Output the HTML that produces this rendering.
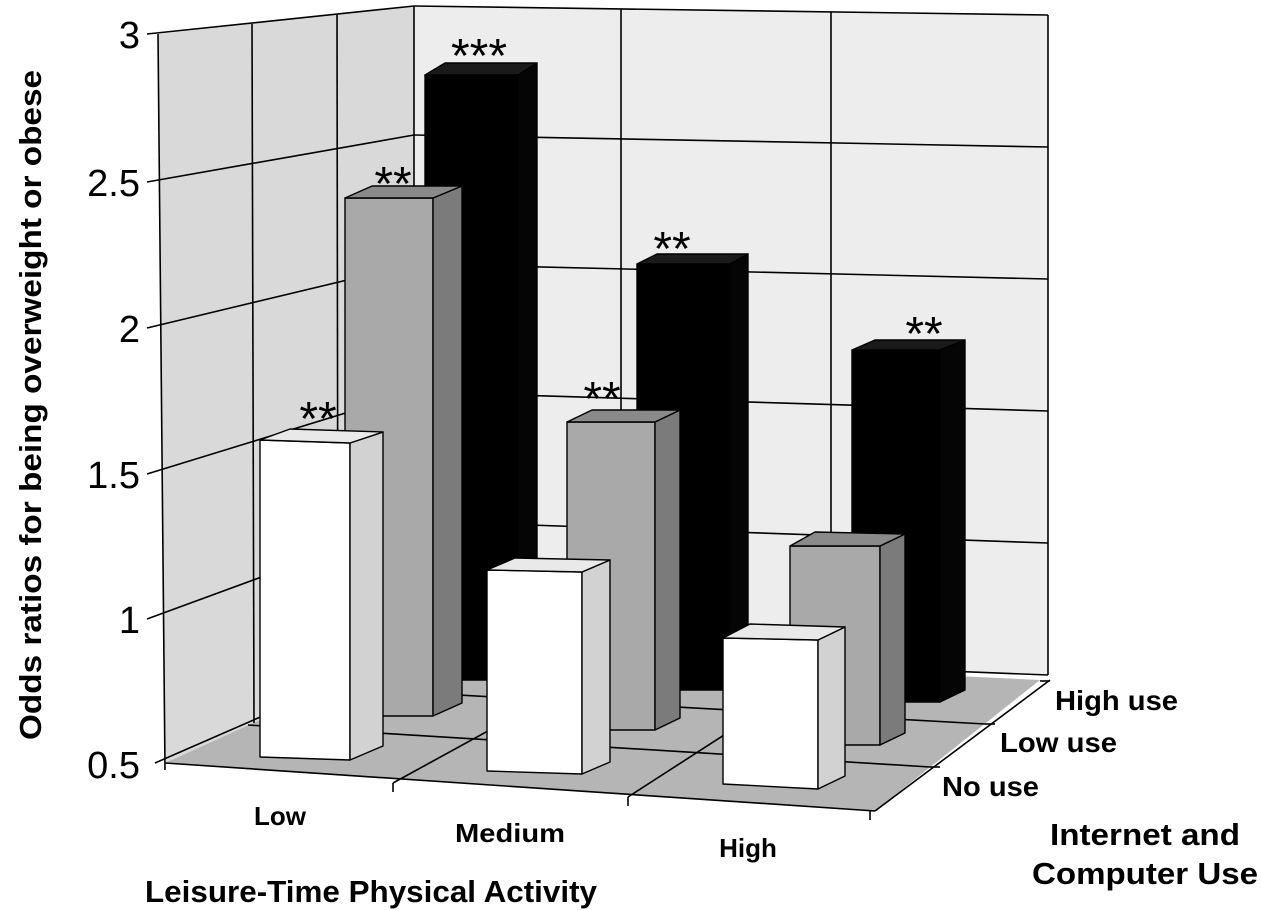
<!DOCTYPE html>
<html><head><meta charset="utf-8"><style>html,body{margin:0;padding:0;background:#fff}svg{display:block}</style></head>
<body>
<svg width="1261" height="910" viewBox="0 0 1261 910" xmlns="http://www.w3.org/2000/svg" font-family="Liberation Sans, sans-serif">
<polygon points="158,34 414,6 414,650 165,763" fill="#d9d9d9"/>
<polygon points="414,6 1048,15 1048,675 414,650" fill="#ededed"/>
<polygon points="165,763 414,650 1040,680 875,811" fill="#b5b5b5"/>
<g stroke="#000" stroke-width="1.6" fill="none">
<line x1="147" y1="34" x2="414" y2="6"/>
<line x1="147" y1="182" x2="414" y2="135"/>
<line x1="147" y1="328" x2="414" y2="264"/>
<line x1="147" y1="474" x2="414" y2="392"/>
<line x1="147" y1="619" x2="414" y2="521"/>
<line x1="155" y1="763" x2="414" y2="650"/>
<line x1="414" y1="6" x2="1048" y2="15"/>
<line x1="414" y1="135" x2="1048" y2="147"/>
<line x1="414" y1="264" x2="1048" y2="279"/>
<line x1="414" y1="392" x2="1048" y2="411"/>
<line x1="414" y1="521" x2="1048" y2="543"/>
<line x1="158" y1="34" x2="165" y2="770"/>
<line x1="252" y1="24" x2="254" y2="723"/>
<line x1="337" y1="15" x2="338" y2="685"/>
<line x1="414" y1="6" x2="414" y2="650"/>
<line x1="621" y1="9" x2="621" y2="658"/>
<line x1="831" y1="12" x2="831" y2="666"/>
<line x1="1048" y1="15" x2="1048" y2="675"/>
<line x1="165" y1="763" x2="875" y2="811"/>
<line x1="875" y1="811" x2="1050" y2="680"/>
<line x1="414" y1="650" x2="1048" y2="675"/>
<line x1="393" y1="783" x2="621" y2="658"/>
<line x1="628" y1="797" x2="831" y2="666"/>
<line x1="248" y1="725" x2="930" y2="767"/>
<line x1="331" y1="688" x2="985" y2="724"/>
<line x1="393" y1="783" x2="393" y2="792"/>
<line x1="628" y1="797" x2="628" y2="806"/>
<line x1="870" y1="811" x2="870" y2="820"/>
<line x1="930" y1="767" x2="940" y2="767"/>
<line x1="985" y1="724" x2="995" y2="724"/>
<line x1="1040" y1="681" x2="1050" y2="681"/>
</g>
<g stroke="#000" stroke-width="1.4" stroke-linejoin="round">
<polygon points="425,75 518,75 518,680 425,680" fill="#000"/>
<polygon points="518,75 537,63 537,670 518,680" fill="#050505"/>
<polygon points="425,75 445,63 537,63 518,75" fill="#1a1a1a"/>
<polygon points="637,264 730,264 730,690 637,690" fill="#000"/>
<polygon points="730,264 748,254 748,680 730,690" fill="#050505"/>
<polygon points="637,264 657,254 748,254 730,264" fill="#1a1a1a"/>
<polygon points="852,350 940,350 940,702 852,702" fill="#000"/>
<polygon points="940,350 965,340 965,690 940,702" fill="#050505"/>
<polygon points="852,350 875,340 965,340 940,350" fill="#1a1a1a"/>
<polygon points="345,198 433,198 433,716 345,716" fill="#a9a9a9"/>
<polygon points="433,198 462,186 462,703 433,716" fill="#7b7b7b"/>
<polygon points="345,198 372,186 462,186 433,198" fill="#8a8a8a"/>
<polygon points="567,422 655,422 655,730 567,730" fill="#a9a9a9"/>
<polygon points="655,422 680,410 680,718 655,730" fill="#7b7b7b"/>
<polygon points="567,422 592,410 680,410 655,422" fill="#8a8a8a"/>
<polygon points="790,546 880,546 880,745 790,745" fill="#a9a9a9"/>
<polygon points="880,546 905,534 905,733 880,745" fill="#7b7b7b"/>
<polygon points="790,546 815,532 905,534 880,546" fill="#8a8a8a"/>
<polygon points="260,440 350,443 350,760 260,757" fill="#fff"/>
<polygon points="350,443 383,432 383,746 350,760" fill="#d2d2d2"/>
<polygon points="260,440 290,429 383,432 350,443" fill="#e9e9e9"/>
<polygon points="487,570 582,572 582,774 487,771" fill="#fff"/>
<polygon points="582,572 610,560 610,762 582,774" fill="#d2d2d2"/>
<polygon points="487,570 515,558 610,560 582,572" fill="#e9e9e9"/>
<polygon points="723,638 818,640 818,789 723,784" fill="#fff"/>
<polygon points="818,640 845,627 845,776 818,789" fill="#d2d2d2"/>
<polygon points="723,638 750,624 845,627 818,640" fill="#e9e9e9"/>
</g>
<g font-size="48" text-anchor="middle" fill="#000">
<text x="479" y="72">***</text>
<text x="393" y="200">**</text>
<text x="318" y="435">**</text>
<text x="672" y="265">**</text>
<text x="602" y="415">**</text>
<text x="924" y="350">**</text>
</g>
<g font-size="38" text-anchor="end" fill="#000">
<text x="140" y="48">3</text>
<text x="140" y="196">2.5</text>
<text x="140" y="342">2</text>
<text x="140" y="488">1.5</text>
<text x="140" y="633">1</text>
<text x="140" y="778">0.5</text>
</g>
<g font-weight="bold" fill="#000">
<text transform="translate(41,405) rotate(-90)" font-size="31" text-anchor="middle" textLength="670" lengthAdjust="spacingAndGlyphs">Odds ratios for being overweight or obese</text>
<text x="280" y="825" font-size="26" text-anchor="middle">Low</text>
<text x="510" y="842" font-size="26" text-anchor="middle" textLength="110" lengthAdjust="spacingAndGlyphs">Medium</text>
<text x="748" y="857" font-size="26" text-anchor="middle">High</text>
<text x="145" y="902" font-size="31" textLength="452" lengthAdjust="spacingAndGlyphs">Leisure-Time Physical Activity</text>
<text x="1055" y="710" font-size="28" textLength="123" lengthAdjust="spacingAndGlyphs">High use</text>
<text x="1000" y="752" font-size="28" textLength="117" lengthAdjust="spacingAndGlyphs">Low use</text>
<text x="942" y="796" font-size="28" textLength="97" lengthAdjust="spacingAndGlyphs">No use</text>
<text x="1145" y="845" font-size="31" text-anchor="middle" textLength="190" lengthAdjust="spacingAndGlyphs">Internet and</text>
<text x="1145" y="884" font-size="31" text-anchor="middle" textLength="226" lengthAdjust="spacingAndGlyphs">Computer Use</text>
</g>
</svg>
</body></html>
